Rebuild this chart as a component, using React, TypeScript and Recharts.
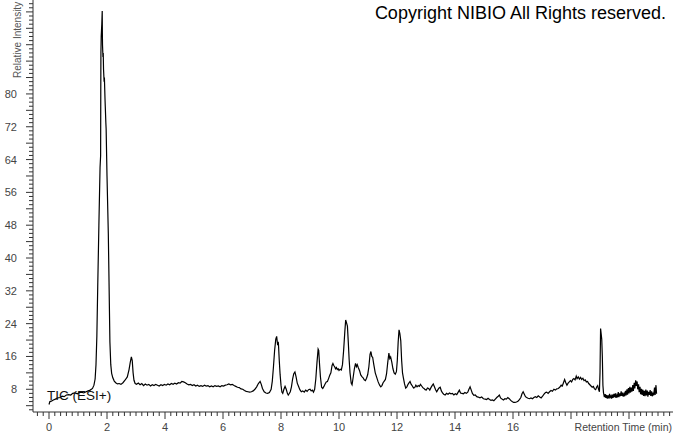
import { LineChart, Line, XAxis, YAxis } from 'recharts'

// retention time (min) and TIC relative intensity
const retentionTimes = [
  0.0, 0.03, 0.08, 0.15, 0.22, 0.3, 0.38, 0.45, 0.52, 0.6, 0.68, 0.75, 0.82, 0.9, 0.98, 1.05, 1.12, 1.2, 1.28, 1.35,
  1.42, 1.5, 1.55, 1.59, 1.62, 1.65, 1.68, 1.72, 1.76, 1.78, 1.785, 1.79, 1.8, 1.82, 1.835, 1.84, 1.845, 1.86, 1.87, 1.88,
  1.9, 1.91, 1.93, 1.94, 1.96, 1.97, 2.0, 2.045, 2.07, 2.1, 2.13, 2.16, 2.2, 2.25, 2.3, 2.36, 2.42, 2.48, 2.55, 2.62,
  2.7, 2.76, 2.8, 2.84, 2.87, 2.9, 2.93, 2.97, 3.02, 3.08, 3.14, 3.2, 3.26, 3.32, 3.38, 3.44, 3.5, 3.56, 3.62, 3.68,
  3.74, 3.8, 3.86, 3.92, 3.98, 4.04, 4.1, 4.16, 4.22, 4.28, 4.34, 4.4, 4.46, 4.52, 4.58, 4.64, 4.7, 4.76, 4.82, 4.88,
  4.94, 5.0, 5.06, 5.12, 5.18, 5.24, 5.3, 5.36, 5.42, 5.48, 5.54, 5.6, 5.66, 5.72, 5.78, 5.84, 5.9, 5.96, 6.02, 6.08,
  6.14, 6.2, 6.26, 6.32, 6.38, 6.44, 6.5, 6.56, 6.62, 6.68, 6.74, 6.8, 6.86, 6.92, 6.98, 7.04, 7.1, 7.16, 7.22, 7.28,
  7.32, 7.36, 7.42, 7.48, 7.54, 7.6, 7.66, 7.7, 7.74, 7.78, 7.82, 7.85, 7.88, 7.91, 7.94, 7.97, 8.0, 8.03, 8.06, 8.1,
  8.14, 8.18, 8.22, 8.25, 8.28, 8.32, 8.36, 8.4, 8.44, 8.48, 8.52, 8.56, 8.6, 8.65, 8.7, 8.75, 8.8, 8.85, 8.9, 8.95,
  9.0, 9.04, 9.08, 9.12, 9.16, 9.2, 9.24, 9.28, 9.3, 9.33, 9.36, 9.4, 9.44, 9.48, 9.52, 9.56, 9.6, 9.64, 9.68, 9.72,
  9.76, 9.79, 9.82, 9.85, 9.88, 9.91, 9.94, 9.97, 10.0, 10.04, 10.08, 10.12, 10.16, 10.2, 10.23, 10.26, 10.29, 10.32, 10.35, 10.38,
  10.42, 10.45, 10.49, 10.53, 10.57, 10.6, 10.63, 10.67, 10.71, 10.75, 10.79, 10.83, 10.87, 10.91, 10.95, 10.99, 11.03, 11.07, 11.1, 11.13,
  11.16, 11.2, 11.25, 11.3, 11.35, 11.4, 11.44, 11.48, 11.52, 11.56, 11.6, 11.64, 11.68, 11.72, 11.75, 11.78, 11.82, 11.86, 11.9, 11.94,
  11.98, 12.01, 12.04, 12.07, 12.1, 12.13, 12.16, 12.19, 12.22, 12.26, 12.3, 12.34, 12.38, 12.42, 12.45, 12.49, 12.53, 12.57, 12.61, 12.65,
  12.69, 12.73, 12.77, 12.81, 12.85, 12.89, 12.93, 12.97, 13.01, 13.05, 13.09, 13.13, 13.17, 13.21, 13.25, 13.29, 13.33, 13.37, 13.41, 13.45,
  13.49, 13.53, 13.57, 13.61, 13.66, 13.71, 13.76, 13.81, 13.86, 13.91, 13.96, 14.01, 14.06, 14.11, 14.15, 14.19, 14.24, 14.29, 14.34, 14.39,
  14.44, 14.48, 14.52, 14.56, 14.6, 14.65, 14.7, 14.75, 14.8, 14.86, 14.92, 14.98, 15.04, 15.09, 15.14, 15.19, 15.24, 15.29, 15.34, 15.39,
  15.44, 15.49, 15.53, 15.57, 15.62, 15.67, 15.72, 15.77, 15.82, 15.87, 15.92, 15.97, 16.02, 16.07, 16.12, 16.17, 16.22, 16.27, 16.31, 16.35,
  16.39, 16.43, 16.47, 16.52, 16.57, 16.62, 16.67, 16.72, 16.77, 16.82, 16.87, 16.92, 16.97, 17.02, 17.07, 17.12, 17.16, 17.21, 17.26, 17.31,
  17.36, 17.41, 17.46, 17.51, 17.56, 17.61, 17.66, 17.7, 17.74, 17.78, 17.82, 17.86, 17.9, 17.94, 17.98, 18.02, 18.06, 18.1, 18.14, 18.18,
  18.21, 18.25, 18.29, 18.33, 18.37, 18.41, 18.45, 18.49, 18.53, 18.57, 18.61, 18.65, 18.69, 18.73, 18.77, 18.81, 18.85, 18.89, 18.92, 18.95,
  18.98, 19.0, 19.02, 19.04, 19.06, 19.08, 19.1, 19.12, 19.15, 19.18, 19.2, 19.23, 19.25, 19.28, 19.3, 19.33, 19.35, 19.38, 19.4, 19.43,
  19.45, 19.48, 19.5, 19.53, 19.55, 19.58, 19.6, 19.63, 19.65, 19.68, 19.7, 19.73, 19.75, 19.78, 19.8, 19.83, 19.85, 19.88, 19.9, 19.93,
  19.95, 19.98, 20.0, 20.03, 20.05, 20.08, 20.1, 20.13, 20.15, 20.18, 20.2, 20.23, 20.25, 20.28, 20.3, 20.33, 20.35, 20.38, 20.4, 20.43,
  20.45, 20.48, 20.5, 20.53, 20.55, 20.58, 20.6, 20.63, 20.65, 20.68, 20.7, 20.73, 20.75, 20.78, 20.8, 20.83, 20.85, 20.88, 20.9, 20.93,
  20.95,
]

const ticIntensity = [
  4.3, 5.0, 5.1, 5.4, 5.6, 5.9, 6.0, 6.3, 6.2, 6.6, 6.7, 6.6, 7.0, 7.1, 6.9, 7.2, 7.3, 7.1, 7.4, 7.6,
  7.8, 8.2, 9.0, 10.5, 14.0, 21.0, 33.0, 48.0, 62.0, 65.0, 80.0, 90.0, 94.0, 97.0, 100.2, 95.0, 92.0, 89.0, 90.0, 86.0,
  83.0, 84.0, 79.0, 77.0, 73.0, 71.5, 60.0, 46.0, 34.0, 19.5, 14.0, 11.9, 10.8, 10.0, 9.6, 9.3, 9.4, 9.2, 9.6, 10.2,
  11.0, 12.8, 14.5, 15.9, 15.0, 12.0, 10.2, 9.4, 9.2, 9.5, 9.1, 9.4, 8.9, 9.3, 9.0, 9.2, 8.8, 9.1, 8.9, 9.2,
  9.0, 8.8, 9.1, 8.9, 9.2, 9.0, 9.3, 9.1, 9.4, 9.2, 9.5, 9.3, 9.6, 9.5, 9.9, 9.8, 9.6, 9.3, 9.1, 9.2,
  8.9, 9.1, 8.8, 9.0, 8.7, 8.9, 8.7, 9.0, 8.8, 8.9, 8.6, 8.8, 8.6, 8.9, 8.7, 8.8, 8.6, 8.9, 8.8, 9.0,
  9.1, 9.3, 9.1, 9.2, 8.9, 8.7, 8.5, 8.4, 8.1, 8.0, 7.7, 7.5, 7.4, 7.3, 7.4, 7.6, 8.0, 8.6, 9.4, 9.9,
  9.2, 8.2, 7.4, 7.1, 7.0, 7.2, 8.0, 10.0, 13.5, 17.5, 20.2, 20.9, 19.0, 19.3, 15.0, 11.5, 9.0, 7.3, 7.0, 8.0,
  8.7, 8.0, 7.0, 6.6, 6.9, 7.4, 8.6, 10.5, 11.8, 12.2, 11.0, 9.5, 8.8, 7.9, 7.4, 7.6, 7.3, 7.8, 7.5, 7.9,
  8.0, 7.6, 7.8, 7.3, 8.0, 10.5, 14.5, 17.8, 17.5, 14.0, 11.0, 8.5, 8.2, 8.7, 9.3, 9.8, 9.9, 10.6, 11.4, 12.0,
  13.8, 14.3, 13.8, 13.5, 13.0, 13.3, 12.8, 13.0, 12.6, 12.9, 12.7, 14.0, 17.5, 22.0, 24.9, 24.2, 23.4, 19.5, 15.2, 12.0,
  9.5, 9.1, 11.0, 13.0, 14.3, 13.5, 14.0, 13.2, 12.5, 11.5, 11.1, 10.8, 10.3, 10.1, 10.7, 11.6, 13.5, 16.5, 17.2, 16.0,
  15.8, 14.0, 12.0, 10.9, 9.8, 9.0, 8.6, 8.9, 9.6, 10.0, 10.4, 11.8, 14.5, 16.8, 15.5, 15.9, 14.6, 13.0, 12.0, 11.7,
  12.3, 15.0, 19.5, 22.5, 21.5, 19.8, 15.0, 12.0, 10.8, 9.3, 8.3, 8.6, 9.2, 9.6, 9.9, 9.2, 8.8, 8.3, 8.4, 9.0,
  8.6, 8.9, 8.7, 9.2, 8.8, 8.4, 8.2, 7.9, 7.8, 8.3, 8.2, 7.8, 8.4, 8.9, 9.3, 8.6, 7.9, 7.4, 7.9, 8.3,
  8.5, 7.6, 7.1, 6.8, 6.6, 7.0, 6.8, 7.1, 6.9, 7.0, 6.6, 6.9, 6.7, 7.3, 7.8, 7.1, 7.0, 6.9, 7.2, 7.0,
  7.3, 8.0, 8.6, 7.8, 7.0, 6.5, 6.6, 6.2, 6.1, 5.9, 6.1, 5.7, 5.6, 5.5, 5.8, 5.5, 5.3, 5.4, 5.2, 5.6,
  6.0, 6.3, 6.6, 5.9, 5.6, 5.4, 5.7, 5.6, 6.0, 5.7, 5.3, 5.0, 4.8, 4.8, 4.9, 5.1, 5.5, 6.0, 6.9, 7.4,
  6.8, 6.2, 6.0, 5.8, 5.7, 5.9, 5.7, 6.0, 6.2, 6.0, 6.4, 6.1, 5.9, 6.3, 6.8, 7.2, 7.3, 7.0, 7.4, 7.7,
  7.5, 8.0, 7.8, 8.1, 8.2, 8.5, 9.0, 8.8, 9.6, 10.4, 9.6, 9.0, 9.5, 9.8, 10.1, 9.8, 10.4, 10.6, 10.3, 11.2,
  10.6, 11.0, 10.5, 10.9, 10.4, 10.7, 10.1, 10.3, 9.8, 9.9, 9.4, 9.1, 8.8, 8.5, 8.7, 8.1, 7.9, 8.6, 8.9, 8.0,
  7.4, 12.0, 22.8, 21.5, 20.2, 16.0, 9.0, 7.2, 6.1, 6.8, 5.9, 6.6, 5.7, 6.5, 5.8, 6.9, 6.0, 6.4, 5.7, 6.7,
  5.9, 6.9, 6.1, 7.0, 5.9, 6.6, 6.0, 7.3, 6.1, 7.0, 6.3, 7.5, 6.4, 7.2, 6.2, 6.9, 6.3, 7.6, 6.5, 8.0,
  6.7, 8.3, 7.0, 8.6, 7.2, 8.4, 7.4, 9.0, 7.6, 9.6, 8.2, 10.2, 8.8, 9.9, 8.0, 9.2, 7.3, 8.6, 6.8, 8.1,
  6.6, 7.9, 6.4, 7.6, 6.3, 7.9, 6.5, 7.7, 6.2, 7.4, 6.6, 7.8, 6.4, 7.5, 6.3, 7.2, 6.5, 8.4, 6.6, 9.0,
  6.9,
]

const xLabelTicks = [0, 2, 4, 6, 8, 10, 12, 14, 16]
const yLabelTicks = [8, 16, 24, 32, 40, 48, 56, 64, 72, 80]

const chartData = retentionTimes.map((t, i) => ({ t, tic: ticIntensity[i] }))

// minor ticks every 0.2 min / 1 unit
const xTicks: number[] = []
for (let i = -2; i <= 107; i++) xTicks.push(Math.round(i * 2) / 10)
const yTicks: number[] = []
for (let i = 3; i <= 102; i++) yTicks.push(i)

const FONT = '"Liberation Sans", Arial, sans-serif'
const AXIS = '#333'
const LABEL = '#444'

function XTick(props: any) {
  const { x, y, payload } = props
  const v = payload.value as number
  const major = Math.abs(v - Math.round(v / 2) * 2) < 0.001
  const labelled = xLabelTicks.some((l) => Math.abs(l - v) < 0.001)
  return (
    <g>
      <line x1={x} y1={y} x2={x} y2={y + (major ? 7 : 4)} stroke={AXIS} strokeWidth={1} />
      {labelled && (
        <text x={x} y={y + 19} textAnchor="middle" fontSize={11} fontFamily={FONT} fill={LABEL}>
          {v}
        </text>
      )}
    </g>
  )
}

function YTick(props: any) {
  const { x, y, payload } = props
  const v = payload.value as number
  const major = v % 4 === 0
  const labelled = yLabelTicks.includes(v)
  return (
    <g>
      <line x1={x} y1={y} x2={x - (major ? 7 : 4)} y2={y} stroke={AXIS} strokeWidth={1} />
      {labelled && (
        <text x={x - 16} y={y + 4} textAnchor="end" fontSize={11} fontFamily={FONT} fill={LABEL}>
          {v}
        </text>
      )}
    </g>
  )
}

export default function App() {
  return (
    <div style={{ position: 'absolute', left: 0, top: 0, width: 673, height: 433, background: '#fff' }}>
      <LineChart width={673} height={433} data={chartData} margin={{ top: 0, right: 0, bottom: 0, left: 0 }}>
        <XAxis
          dataKey="t"
          type="number"
          domain={[-0.552, 21.517]}
          allowDataOverflow
          ticks={xTicks}
          interval={0}
          tick={<XTick />}
          tickLine={false}
          tickSize={0}
          tickMargin={0}
          height={21}
          axisLine={{ stroke: AXIS }}
        />
        <YAxis
          type="number"
          domain={[2.46, 102.9]}
          allowDataOverflow
          ticks={yTicks}
          interval={0}
          tick={<YTick />}
          tickLine={false}
          tickSize={0}
          tickMargin={0}
          width={33}
          axisLine={{ stroke: AXIS }}
        />
        <Line
          type="linear"
          dataKey="tic"
          stroke="#000"
          strokeWidth={1.2}
          dot={false}
          isAnimationActive={false}
        />
      </LineChart>
      <svg
        width={673}
        height={433}
        style={{ position: 'absolute', left: 0, top: 0, pointerEvents: 'none' }}
      >
        <text x={666} y={19} textAnchor="end" fontSize={18} fontFamily={FONT} fill="#000">
          Copyright NIBIO All Rights reserved.
        </text>
        <text x={47} y={400} fontSize={13.5} fontFamily={FONT} fill="#111">
          TIC (ESI+)
        </text>
        <text x={21} y={78} transform="rotate(-90 21 78)" fontSize={10} fontFamily={FONT} fill="#555">
          Relative Intensity
        </text>
        <text x={672} y={431} textAnchor="end" fontSize={10.5} fontFamily={FONT} fill={LABEL}>
          Retention Time (min)
        </text>
      </svg>
    </div>
  )
}
